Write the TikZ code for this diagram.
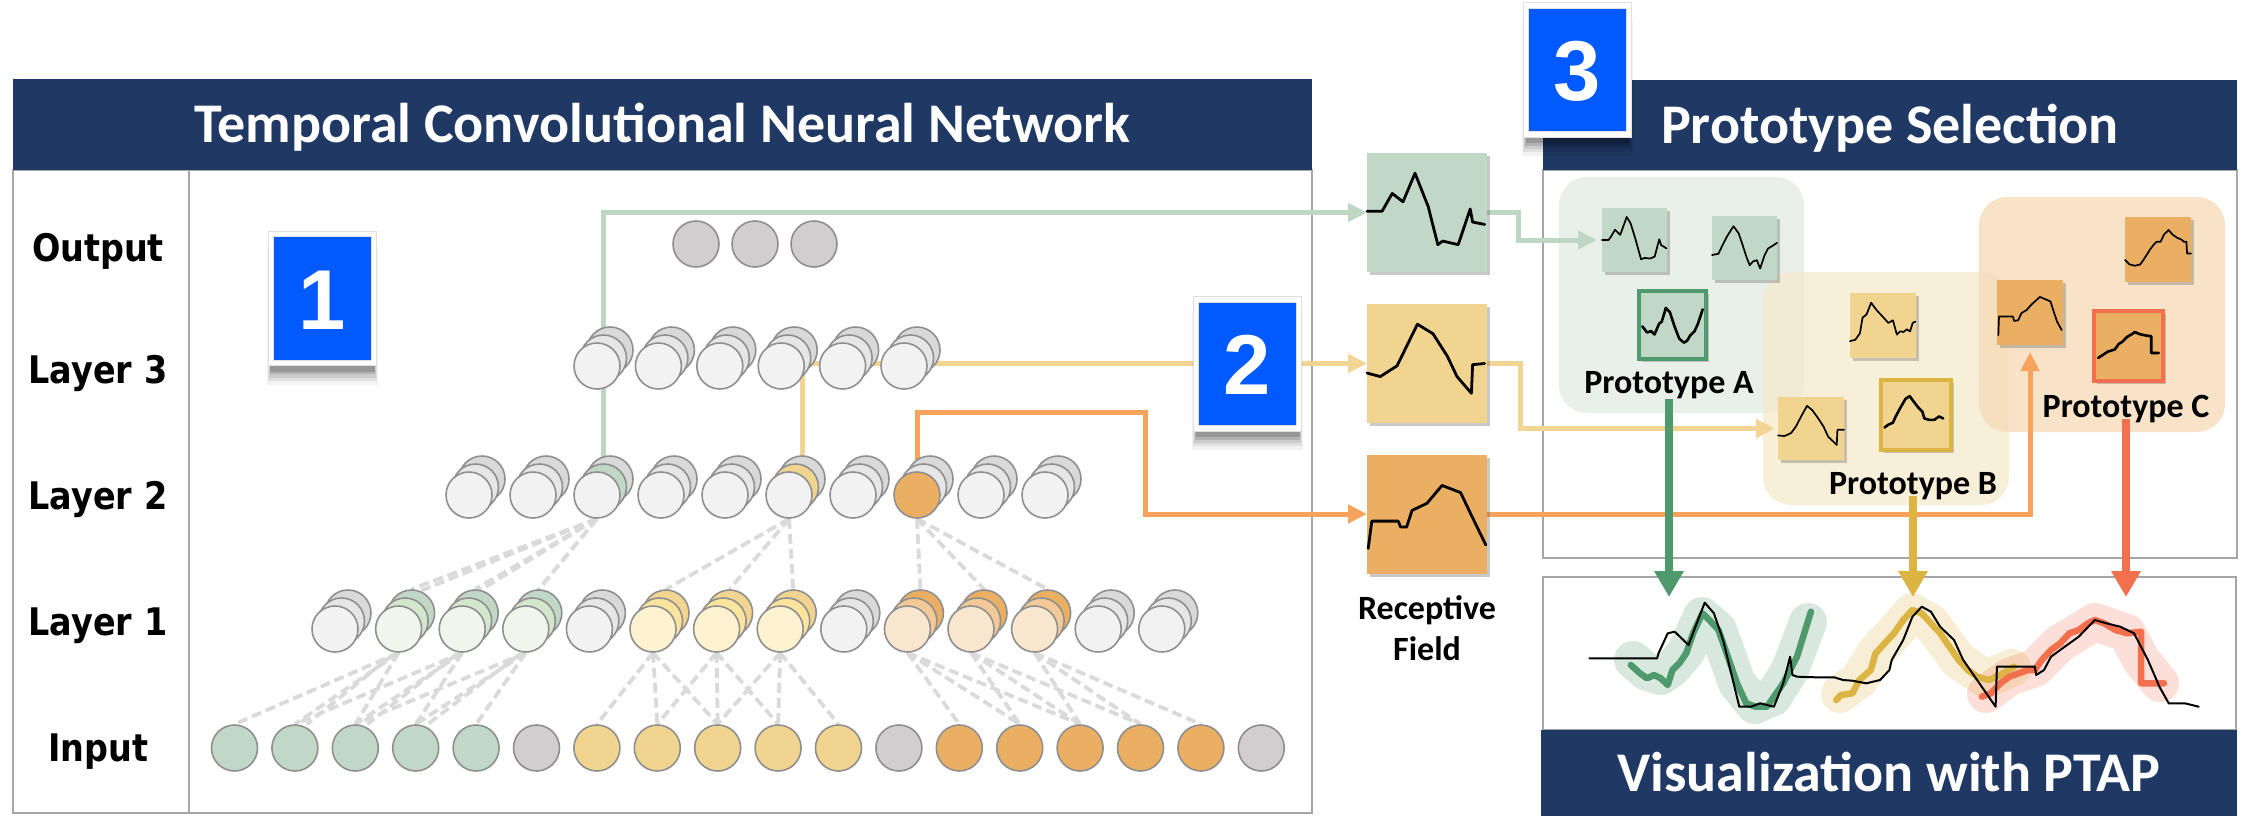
\documentclass[tikz,border=0pt]{standalone}
\usepackage{fontspec}
\setmainfont{Carlito}
\newfontfamily\rowfont[FakeStretch=0.88]{DejaVu Sans}
\newfontfamily\numfont{Liberation Sans}
\usetikzlibrary{arrows.meta,shadows,calc}

\definecolor{navy}{HTML}{203864}
\definecolor{badgeblue}{HTML}{005AFF}
\definecolor{frameGray}{HTML}{A6A6A6}
\definecolor{ringGray}{HTML}{8F8F8F}
\definecolor{dashGray}{HTML}{DADADA}
\definecolor{grayA}{HTML}{F2F2F2}
\definecolor{grayB}{HTML}{E6E6E6}
\definecolor{grayC}{HTML}{D9D9D9}
\definecolor{inGray}{HTML}{D0CECE}
\definecolor{greenA}{HTML}{F0F6EC}
\definecolor{greenB}{HTML}{D3E7CD}
\definecolor{greenC}{HTML}{C1D8C7}
\definecolor{yellowA}{HTML}{FFF2D0}
\definecolor{yellowB}{HTML}{FDE49C}
\definecolor{yellowC}{HTML}{F1D48F}
\definecolor{orangeA}{HTML}{F8E6CF}
\definecolor{orangeB}{HTML}{F3C997}
\definecolor{orangeC}{HTML}{EBAF64}
\definecolor{routeGreen}{HTML}{BDD7C3}
\definecolor{routeYellow}{HTML}{F2D592}
\definecolor{routeOrange}{HTML}{F8A35D}
\definecolor{protoGreen}{HTML}{4E9A6C}
\definecolor{protoGold}{HTML}{DCB443}
\definecolor{protoRed}{HTML}{F3704F}
\definecolor{clusterA}{HTML}{E9F0EA}
\definecolor{clusterB}{HTML}{F6EACC}
\definecolor{clusterC}{HTML}{F6DAB7}

\pgfdeclarelayer{panels}
\pgfdeclarelayer{wires}
\pgfsetlayers{panels,wires,main}

% three overlapping neurons: back, middle, front
\newcommand\neuronstack[7]{%
  \node[neuron, fill=#5] (#1b#2) at ({#3+13},{#4-16}) {};
  \node[neuron, fill=#6] (#1m#2) at ({#3+6.5},{#4-8}) {};
  \node[neuron, fill=#7] (#1f#2) at (#3,#4) {};}

% waveform inside a box node, points given in unit coordinates (v downwards)
\newcommand\drawwave[5][]{%
  \begin{scope}[shift={(#2.north west)}, x=#3pt, y=-#4pt]
    \draw[waveline,#1] plot coordinates {#5};
  \end{scope}}

\begin{document}
\begin{tikzpicture}[x=1pt,y=-1pt,
  frame/.style={draw=frameGray, line width=1.6pt},
  headbar/.style={fill=navy, text=white, inner sep=0pt, outer sep=0pt,
    font=\bfseries\fontsize{56}{62}\selectfont, text height=36pt, text depth=0pt},
  rowlabel/.style={font=\rowfont\bfseries\fontsize{38}{40}\selectfont,
    text height=28pt, text depth=0pt, inner sep=0pt},
  neuron/.style={circle, draw=ringGray, line width=1.6pt, minimum size=46pt, inner sep=0pt},
  conn/.style={draw=dashGray, line width=3.8pt, dash pattern=on 10pt off 5pt},
  route/.style={line width=5pt, -{Triangle[length=19pt,width=18pt]}},
  rfbox/.style={minimum width=120pt, minimum height=119pt, inner sep=0pt, outer sep=0pt,
    drop shadow={shadow xshift=3pt, shadow yshift=-3pt, opacity=.35, fill=black!60}},
  thumb/.style={inner sep=0pt, outer sep=0pt,
    drop shadow={shadow xshift=2.5pt, shadow yshift=-3pt, opacity=.35, fill=black!60}},
  waveline/.style={black, line width=1.7pt, line join=round, line cap=round},
  protolabel/.style={font=\bfseries\fontsize{34}{40}\selectfont, inner sep=0pt, anchor=base},
  softshadow/.style={general shadow={fill=black, opacity=.05, shadow yshift=-16pt, shadow scale=1.07},
    general shadow={fill=black, opacity=.07, shadow yshift=-14pt, shadow scale=1.05},
    general shadow={fill=black, opacity=.09, shadow yshift=-12pt, shadow scale=1.035},
    general shadow={fill=black, opacity=.12, shadow yshift=-10pt, shadow scale=1.02},
    general shadow={fill=black, opacity=.15, shadow yshift=-8pt, shadow scale=1.01},
    general shadow={fill=black, opacity=.08, shadow yshift=0pt, shadow scale=1.04}},
  badge/.style={softshadow, fill=badgeblue, draw=black!12, line width=0.8pt,
    double=white, double distance=4.5pt, minimum width=103pt,
    minimum height=129pt, inner sep=0pt, text=white,
    font=\numfont\bfseries\fontsize{85}{85}\selectfont, text height=61pt, text depth=0pt},
  downarrow/.style={line width=8pt, -{Triangle[length=26pt,width=28pt]}},
]
\useasboundingbox (0,0) rectangle (2244,816);

% ---------- panels ----------
\begin{pgfonlayer}{panels}
  \fill[white] (0,0) rectangle (2244,816);
  \draw[frame] (13,170) rectangle (1312,813);
  \draw[frame] (189,170) -- (189,813);
  \draw[frame] (1543,170) rectangle (2237,558);
  \draw[frame] (1543,577) rectangle (2236,730);
  % prototype clusters
  \fill[clusterA, rounded corners=28pt] (1559,177) rectangle (1804,413);
  \fill[clusterB, fill opacity=.75, rounded corners=28pt] (1763,272) rectangle (2009,505);
  \fill[clusterC, fill opacity=.75, rounded corners=28pt] (1979,197) rectangle (2225,432);
\end{pgfonlayer}

\node[headbar, minimum width=1299pt, minimum height=91pt, anchor=north west] (tcnHead) at (13,79)
  {Temporal Convolutional Neural Network};
\node[headbar, minimum width=694pt, minimum height=90pt, anchor=north west] (selHead) at (1543,80)
  {Prototype Selection};
\node[headbar, minimum width=696pt, minimum height=86pt, anchor=north west] (vizHead) at (1541,730)
  {Visualization with PTAP};

% ---------- row labels ----------
\node[rowlabel] (lblOut) at (98,247) {Output};
\node[rowlabel] (lblL3)  at (98,369) {Layer 3};
\node[rowlabel] (lblL2)  at (98,495) {Layer 2};
\node[rowlabel] (lblL1)  at (98,621) {Layer 1};
\node[rowlabel] (lblIn)  at (98,747) {Input};

% ---------- neurons ----------
\foreach \i/\c in {1/inGray,2/inGray,3/inGray}{
  \pgfmathsetmacro\xx{696+59*(\i-1)}
  \node[neuron, fill=\c] (Out\i) at (\xx,244) {};
}
\foreach \i in {1,...,6}{
  \pgfmathsetmacro\xx{597+61.4*(\i-1)}
  \neuronstack{L3}{\i}{\xx}{366}{grayC}{grayB}{grayA}
}
\foreach \i/\b/\m/\f in {1/grayC/grayB/grayA,2/grayC/grayB/grayA,3/grayC/greenC/grayA,
    4/grayC/grayB/grayA,5/grayC/grayB/grayA,6/grayC/yellowC/grayA,7/grayC/grayB/grayA,
    8/grayC/grayB/orangeC,9/grayC/grayB/grayA,10/grayC/grayB/grayA}{
  \pgfmathsetmacro\xx{469+64*(\i-1)}
  \neuronstack{L2}{\i}{\xx}{495}{\b}{\m}{\f}
}
\foreach \i/\p in {1/gray,2/green,3/green,4/green,5/gray,6/yellow,7/yellow,8/yellow,
    9/gray,10/orange,11/orange,12/orange,13/gray,14/gray}{
  \pgfmathsetmacro\xx{335+63.6*(\i-1)}
  \neuronstack{L1}{\i}{\xx}{629}{\p C}{\p B}{\p A}
}
\foreach \i/\c in {1/greenC,2/greenC,3/greenC,4/greenC,5/greenC,6/inGray,
    7/yellowC,8/yellowC,9/yellowC,10/yellowC,11/yellowC,12/inGray,
    13/orangeC,14/orangeC,15/orangeC,16/orangeC,17/orangeC,18/inGray}{
  \pgfmathsetmacro\xx{234.5+60.4*(\i-1)}
  \node[neuron, fill=\c] (In\i) at (\xx,748) {};
}

% ---------- receptive fields ----------
\node[rfbox, fill=greenC]  (rfA) at (1427,212.5) {};
\node[rfbox, fill=yellowC] (rfB) at (1427,363.5) {};
\node[rfbox, fill=orangeC] (rfC) at (1427,514) {};
\drawwave[line width=2.8pt]{rfA}{120}{119}{(0,.49) (.125,.49) (.21,.34) (.30,.41) (.40,.17) (.51,.45) (.59,.77) (.63,.74) (.76,.77) (.86,.47) (.88,.58) (.98,.60)}
\drawwave[line width=2.8pt]{rfB}{120}{119}{(0,.58) (.11,.61) (.25,.52) (.42,.17) (.55,.25) (.67,.44) (.75,.61) (.87,.75) (.88,.51) (.98,.50)}
\drawwave[line width=2.8pt]{rfC}{120}{119}{(.01,.79) (.04,.56) (.26,.56) (.28,.61) (.33,.61) (.375,.47) (.50,.41) (.625,.26) (.78,.32) (.86,.49) (.99,.76)}
\node[font=\bfseries\fontsize{34}{41}\selectfont, align=center, inner sep=0pt, anchor=north]
  (rfLabel) at (1427,595) {Receptive\\Field};

% ---------- prototype thumbnails ----------
\node[thumb, fill=greenC, minimum width=65pt, minimum height=64pt] (A1) at (1634.5,240) {};
\node[thumb, fill=greenC, minimum width=65pt, minimum height=64pt] (A2) at (1744.5,248) {};
\node[thumb, fill=greenC, draw=protoGreen, line width=4pt, minimum width=67pt, minimum height=68pt] (A3) at (1672.5,325) {};
\node[thumb, fill=yellowC, minimum width=66pt, minimum height=65pt] (B1) at (1883,325.5) {};
\node[thumb, fill=yellowC, minimum width=66pt, minimum height=63pt] (B2) at (1811,428.5) {};
\node[thumb, fill=yellowC, draw=protoGold, line width=4pt, minimum width=70pt, minimum height=70pt] (B3) at (1916,415) {};
\node[thumb, fill=orangeC, minimum width=66pt, minimum height=65pt] (C1) at (2158,249.5) {};
\node[thumb, fill=orangeC, minimum width=66pt, minimum height=65pt] (C2) at (2030,312.5) {};
\node[thumb, fill=orangeC, draw=protoRed, line width=4pt, minimum width=69pt, minimum height=70pt] (C3) at (2128.5,346) {};

\drawwave{A1}{65}{64}{(0,.50) (.10,.50) (.13,.46) (.20,.34) (.28,.42) (.38,.14) (.44,.24) (.51,.47) (.60,.80) (.66,.78) (.74,.79) (.81,.76) (.88,.49) (.91,.58) (.99,.63)}
\drawwave{A2}{65}{64}{(0,.61) (.10,.59) (.15,.48) (.23,.32) (.33,.16) (.41,.27) (.47,.45) (.53,.64) (.58,.77) (.63,.71) (.69,.69) (.74,.82) (.81,.61) (.86,.51) (.94,.46) (1,.42)}
\drawwave[line width=2.6pt]{A3}{67}{68}{(.05,.52) (.12,.61) (.18,.59) (.23,.64) (.30,.48) (.34,.45) (.40,.25) (.46,.31) (.53,.52) (.60,.70) (.67,.76) (.72,.73) (.76,.66) (.83,.59) (.88,.48) (.95,.27)}
\drawwave{B1}{66}{65}{(0,.74) (.08,.72) (.15,.62) (.19,.38) (.25,.33) (.32,.15) (.40,.26) (.51,.38) (.58,.46) (.65,.42) (.71,.64) (.76,.59) (.81,.60) (.86,.56) (.91,.59) (.95,.46) (.99,.44)}
\drawwave{B2}{66}{63}{(0,.61) (.10,.62) (.20,.57) (.27,.47) (.36,.29) (.44,.14) (.52,.21) (.61,.34) (.69,.47) (.76,.63) (.84,.71) (.89,.76) (.90,.52) (1,.52)}
\drawwave[line width=2.6pt]{B3}{70}{70}{(.05,.68) (.10,.64) (.17,.61) (.21,.52) (.28,.39) (.35,.27) (.41,.23) (.46,.30) (.53,.39) (.59,.45) (.62,.55) (.69,.57) (.76,.57) (.83,.52) (.89,.55)}
\drawwave{C1}{66}{65}{(0,.66) (.07,.73) (.15,.75) (.23,.73) (.28,.66) (.33,.58) (.38,.50) (.43,.43) (.48,.38) (.54,.38) (.59,.27) (.66,.20) (.72,.27) (.79,.32) (.86,.35) (.89,.38) (.93,.38) (.94,.56) (1,.56)}
\drawwave{C2}{66}{65}{(.02,.85) (.03,.56) (.24,.56) (.26,.63) (.32,.62) (.37,.51) (.45,.46) (.52,.38) (.65,.26) (.81,.33) (.86,.49) (.91,.64) (.98,.77)}
\drawwave[line width=2.6pt]{C3}{69}{70}{(.06,.67) (.14,.62) (.20,.58) (.30,.55) (.36,.47) (.41,.44) (.48,.37) (.55,.33) (.59,.30) (.66,.33) (.75,.35) (.83,.36) (.83,.60) (.94,.60)}

\node[protolabel] (pA) at (1669,393) {Prototype A};
\node[protolabel] (pB) at (1913,494) {Prototype B};
\node[protolabel] (pC) at (2126,417) {Prototype C};

% ---------- connections ----------
\coordinate (orangeBend) at (1145,412);
\coordinate (vizArrowLine) at (1543,597);
\begin{pgfonlayer}{wires}
  \foreach \a/\b in {2/1,2/2,2/3,3/2,3/3,3/4,4/3,4/4,4/5,
                     6/7,6/8,6/9,7/8,7/9,7/10,8/9,8/10,8/11,
                     10/13,10/14,10/15,11/14,11/15,11/16,12/15,12/16,12/17}
    \draw[conn] (L1f\a.south) -- (In\b.north);
  \foreach \a in {2,3,4}
    \draw[conn] (L1m\a.south) -- ($(In\a.north)+(12,0)$);
  \foreach \a/\b in {3/2,3/3,3/4,6/6,6/7,6/8,8/10,8/11,8/12}
    \draw[conn] (L2f\a.south) -- (L1b\b.north);
  \foreach \b in {2,3,4}
    \draw[conn] (L2f3.south) -- (L1m\b.north);

  \draw[route, routeGreen]  (L2m3.center) |- (rfA.west);
  \draw[route, routeYellow] (L2b6.center) |- (rfB.west);
  \draw[route, routeOrange] (L2f8.center) |- (orangeBend) |- (rfC.west);

  \draw[route, routeGreen, shorten >=5pt]  (rfA.east) -- ++(31,0) |- (A1.west);
  \draw[route, routeYellow, shorten >=3pt] (rfB.east) -- ++(33,0) |- (B2.west);
  \draw[route, routeOrange, shorten >=7pt] (rfC.east) -| (C2.south);

  \draw[downarrow, protoGreen] (pA.south) -- (pA.south |- vizArrowLine);
  \draw[downarrow, protoGold]  ([yshift=4pt]pB.south) -- (pB.south |- vizArrowLine);
  \draw[downarrow, protoRed]   ([yshift=4pt]pC.south) -- (pC.south |- vizArrowLine);
\end{pgfonlayer}

% ---------- step badges ----------
\node[badge] (badge1) at (322.5,298.5) {1};
\node[badge] (badge2) at (1247.5,364) {2};
\node[badge] (badge3) at (1577.5,70) {3};

% ---------- prototype visualization ----------
\begin{scope}[line join=round, line cap=round]
  \draw[protoGreen, opacity=.22, line width=38pt]
    plot coordinates {(1633,660) (1647,672) (1661,676) (1672,668) (1686,652) (1702,616) (1718,630) (1737,683) (1755,705) (1773,697) (1790,670) (1808,622)};
  \draw[protoGold, opacity=.22, line width=38pt]
    plot coordinates {(1840,694) (1859,680) (1875,653) (1894,633) (1912,612) (1931,623) (1958,660) (1986,679) (2012,668)};
  \draw[protoRed, opacity=.22, line width=38pt]
    plot coordinates {(1986,694) (2009,677) (2035,668) (2060,643) (2095,622) (2127,633) (2141,660) (2160,683)};

  \draw[protoGreen, line width=6.5pt]
    plot coordinates {(1630.8,665) (1640,673.3) (1647,678.3) (1653.9,675) (1660.8,678.3) (1667.7,685) (1672.4,670) (1679.3,663.3) (1686.2,653.3) (1693.1,633.3) (1702.4,613.3) (1709.3,620) (1718.5,630) (1727.8,656.7) (1737,683.3) (1746.2,703.3) (1755.5,706.7) (1767,706.7) (1773.9,696.7) (1783.2,683.3) (1790.1,670) (1797,656.7) (1810.9,611.7)};
  \draw[protoGold, line width=6.5pt]
    plot coordinates {(1836.3,700) (1840.9,695) (1852.4,693.3) (1859.3,680) (1870.9,670) (1875.5,653.3) (1884.7,643.3) (1894,633.3) (1903.2,620) (1912.4,610) (1921.7,613.3) (1930.9,623.3) (1940.1,633.3) (1949.4,646.7) (1958.6,660) (1967.8,670) (1977.1,676.7) (1988.6,680) (2000.2,675) (2014,666.7)};
  \draw[protoRed, line width=6.5pt]
    plot coordinates {(1981.7,696.7) (1990.9,693.3) (2000.2,683.3) (2009.4,676.7) (2018.6,673.3) (2027.9,670) (2034.8,670) (2041.7,660) (2051,650) (2060.2,643.3) (2069.4,633.3) (2078.7,630) (2087.9,623.3) (2094.8,620) (2104.1,623.3) (2115.6,630) (2127.1,633.3) (2141,631.7) (2141,683.3) (2164,683.3)};

  \draw[black, line width=2pt]
    plot coordinates {(1589.3,658.3) (1657.1,658.3) (1658.5,653.3) (1667.7,633.3) (1674.7,631.7) (1681.6,638.3) (1688.5,645) (1695.4,626.7) (1704.7,602.7) (1713.9,613.3) (1723.1,640) (1739.3,706.7) (1750.9,706.7) (1760.1,703.3) (1773.9,706.7) (1783.2,683.3) (1790.1,656.7) (1792.4,675) (1797,676.7) (1815.5,677.3) (1834,677.3) (1843.2,680) (1852.4,680.7) (1866.3,683.3) (1880.1,680) (1889.4,670) (1891.7,660) (1903.2,640) (1912.4,616.7) (1921.7,606.7) (1930.9,611.7) (1940.1,626.7) (1954,640) (1963.2,660) (1981.7,686.7) (1995.6,706.7) (1996.9,666.7) (2034.8,666.7) (2036.2,675) (2044,670) (2051,656.7) (2062.5,648.3) (2078.7,636.7) (2094.8,620) (2106.4,623.3) (2120.2,626.7) (2134,633.3) (2147.9,660) (2159.4,686.7) (2168.7,703.3) (2184.8,703.3) (2198.7,706.7)};
\end{scope}
\end{tikzpicture}
\end{document}
